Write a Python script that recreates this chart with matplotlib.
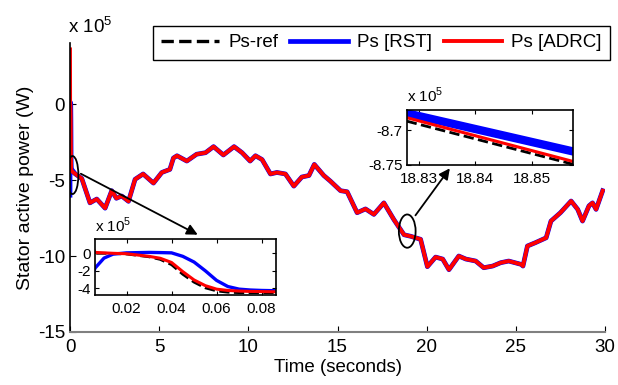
import numpy as np
import matplotlib
matplotlib.use('Agg')
import matplotlib.pyplot as plt
from matplotlib.patches import Ellipse

plt.rcParams['font.family'] = ['Liberation Sans', 'DejaVu Sans']
plt.rcParams['mathtext.fontset'] = 'custom'
plt.rcParams['mathtext.rm'] = 'Liberation Sans'
plt.rcParams['axes.unicode_minus'] = False

# start-up transient (seconds, values in x 1e5 W)
t_start = [0.0, 0.006, 0.01, 0.014, 0.02, 0.03, 0.035, 0.04, 0.045, 0.05,
           0.055, 0.06, 0.065, 0.07, 0.075, 0.08, 0.086]
ref_start = [0.0, 0.0, 0.0, -0.02, -0.08, -0.4, -0.7, -1.3, -2.4, -3.3,
             -3.95, -4.3, -4.45, -4.5, -4.5, -4.5, -4.5]
rst_start = [-6.0, -1.7, -0.55, -0.1, 0.05, 0.1, 0.08, 0.05, -0.35, -1.0,
             -2.0, -3.1, -3.8, -4.1, -4.2, -4.25, -4.28]
adrc_start = [3.6, 0.1, 0.05, 0.0, -0.05, -0.35, -0.57, -1.05, -2.1, -3.05,
              -3.7, -4.1, -4.25, -4.32, -4.36, -4.38, -4.4]

# rest of the run, all three curves lie on top of each other at this scale
t_main = [0.3, 0.66, 1.12, 1.5, 1.97, 2.34, 2.6, 2.9, 3.28, 3.65, 4.1, 4.68,
          5.15, 5.6, 5.8, 6.0, 6.55, 7.1, 7.6, 8.05, 8.6, 9.2, 9.65, 10.1,
          10.4, 10.77, 11.24, 11.6, 12.08, 12.55, 13.0, 13.4, 13.7, 14.23,
          14.6, 15.17, 15.54, 16.1, 16.57, 17.04, 17.6, 18.16, 18.73, 19.1,
          19.66, 20.04, 20.5, 20.9, 21.25, 21.8, 22.2, 22.75, 23.2, 23.7,
          24.15, 24.6, 25.3, 25.4, 25.65, 26.1, 26.7, 26.97, 27.5, 28.1,
          28.47, 28.74, 29.1, 29.3, 29.5, 29.87]
ps_main = [-4.6, -4.9, -6.5, -6.25, -6.85, -5.7, -6.2, -6.05, -6.4, -4.95,
           -4.6, -5.2, -4.5, -4.3, -3.55, -3.4, -3.75, -3.3, -3.2, -2.8,
           -3.35, -2.8, -3.2, -3.75, -3.4, -3.65, -4.6, -4.5, -4.6, -5.4,
           -4.8, -4.7, -3.97, -4.7, -5.07, -5.7, -5.77, -7.15, -6.9, -7.26,
           -6.5, -7.6, -8.6, -8.7, -8.9, -10.7, -10.07, -10.2, -10.9, -10.0,
           -10.2, -10.33, -10.77, -10.66, -10.44, -10.33, -10.55, -10.66,
           -9.34, -9.12, -8.8, -7.7, -7.15, -6.38, -6.93, -7.7, -6.7, -6.5,
           -6.93, -5.7]

# close-up near t = 18.84 s
t_zoom2 = [18.8278, 18.8574]
ref_zoom2 = [-8.687, -8.749]
rst_zoom2 = [-8.6757, -8.7306]
adrc_zoom2 = [-8.682, -8.745]

t_all = np.array(t_start + t_main)
ref_all = np.array(ref_start + ps_main)
rst_all = np.array(rst_start + ps_main)
adrc_all = np.array(adrc_start + ps_main)

fig = plt.figure(figsize=(6.18, 3.85), dpi=100)
ax = fig.add_axes([70/618, 1-332/385, 535/618, 288.7/385])

l1, = ax.plot(t_all, ref_all, 'k--', lw=2.4, label='Ps-ref')
l2, = ax.plot(t_all, rst_all, color='#0000ff', lw=3.4, label='Ps [RST]')
l3, = ax.plot(t_all, adrc_all, color='#ff0000', lw=2.8, label='Ps [ADRC]')

ax.set_xlim(0, 30)
ax.set_ylim(-15, 4)
ax.set_xticks([0, 5, 10, 15, 20, 25, 30])
ax.set_yticks([-15, -10, -5, 0])
ax.spines['top'].set_visible(False)
ax.spines['right'].set_visible(False)
ax.spines['bottom'].set_color('#808080')
ax.spines['bottom'].set_linewidth(1.5)
ax.spines['left'].set_linewidth(1.2)
ax.tick_params(direction='in', length=4, labelsize=13.5)
ax.tick_params(axis='x', pad=5)
ax.set_xlabel('Time (seconds)', fontsize=13.5, labelpad=2)
ax.set_ylabel('Stator active power (W)', fontsize=14, labelpad=3)
ax.text(-0.004, 1.036, r'x 10$^{\mathregular{5}}$', transform=ax.transAxes,
        fontsize=13.5, va='baseline', ha='left')

# ellipses marking the zoomed regions
ax.add_patch(Ellipse((0.14, -4.67), 0.66, 2.5, fill=False, ec='k', lw=1.3, zorder=5))
ax.add_patch(Ellipse((18.91, -8.36), 0.94, 2.19, fill=False, ec='k', lw=1.3, zorder=5))
ax.annotate('', xy=(7.3, -8.68), xytext=(0.47, -4.5),
            arrowprops=dict(arrowstyle='-|>', color='k', lw=1.3, mutation_scale=16))
ax.annotate('', xy=(21.39, -4.08), xytext=(19.28, -7.47),
            arrowprops=dict(arrowstyle='-|>', color='k', lw=1.3, mutation_scale=16))

leg = fig.legend(handles=[l1, l2, l3], ncol=3, loc='upper right',
                 bbox_to_anchor=(610/618, 1-25.7/385), bbox_transform=fig.transFigure,
                 fontsize=13.5, handlelength=3.1, handletextpad=0.5,
                 columnspacing=0.6, borderpad=0.45, borderaxespad=0,
                 fancybox=False, framealpha=1, edgecolor='k')
leg.get_frame().set_linewidth(1.0)

# inset 1: start-up
ax1 = fig.add_axes([95/618, 1-295/385, 181/618, 55.7/385])
ax1.plot(t_all, ref_all, 'k--', lw=2.0)
ax1.plot(t_all, rst_all, color='#0000ff', lw=2.4)
ax1.plot(t_all, adrc_all, color='#ff0000', lw=2.2)
ax1.set_xlim(0.006, 0.0864)
ax1.set_ylim(-4.77, 1.6)
ax1.set_xticks([0.02, 0.04, 0.06, 0.08])
ax1.set_yticks([-4, -2, 0])
ax1.tick_params(direction='in', length=3, labelsize=11, top=True, right=True, pad=3)
ax1.tick_params(axis='x', pad=5)
for s in ax1.spines.values():
    s.set_linewidth(1.2)
ax1.text(0.0, 1.136, r'x 10$^{\mathregular{5}}$', transform=ax1.transAxes,
         fontsize=11, va='baseline', ha='left')

# inset 2: around 18.84 s
ax2 = fig.add_axes([406.7/618, 1-165/385, 166.6/618, 55/385])
ax2.plot(t_zoom2, ref_zoom2, 'k--', lw=2.0)
ax2.plot(t_zoom2, rst_zoom2, color='#0000ff', lw=6.0)
ax2.plot(t_zoom2, adrc_zoom2, color='#ff0000', lw=2.2)
ax2.set_xlim(18.8278, 18.8574)
ax2.set_ylim(-8.75, -8.671)
ax2.set_xticks([18.83, 18.84, 18.85])
ax2.set_xticklabels(['18.83', '18.84', '18.85'])
ax2.set_yticks([-8.75, -8.7])
ax2.set_yticklabels(['-8.75', '-8.7'])
ax2.tick_params(direction='in', length=3, labelsize=11, top=True, right=True, pad=3)
ax2.tick_params(axis='x', pad=5)
for s in ax2.spines.values():
    s.set_linewidth(1.2)
ax2.text(0.0, 1.15, r'x 10$^{\mathregular{5}}$', transform=ax2.transAxes,
         fontsize=11, va='baseline', ha='left')

fig.savefig('out.png', dpi=100)
